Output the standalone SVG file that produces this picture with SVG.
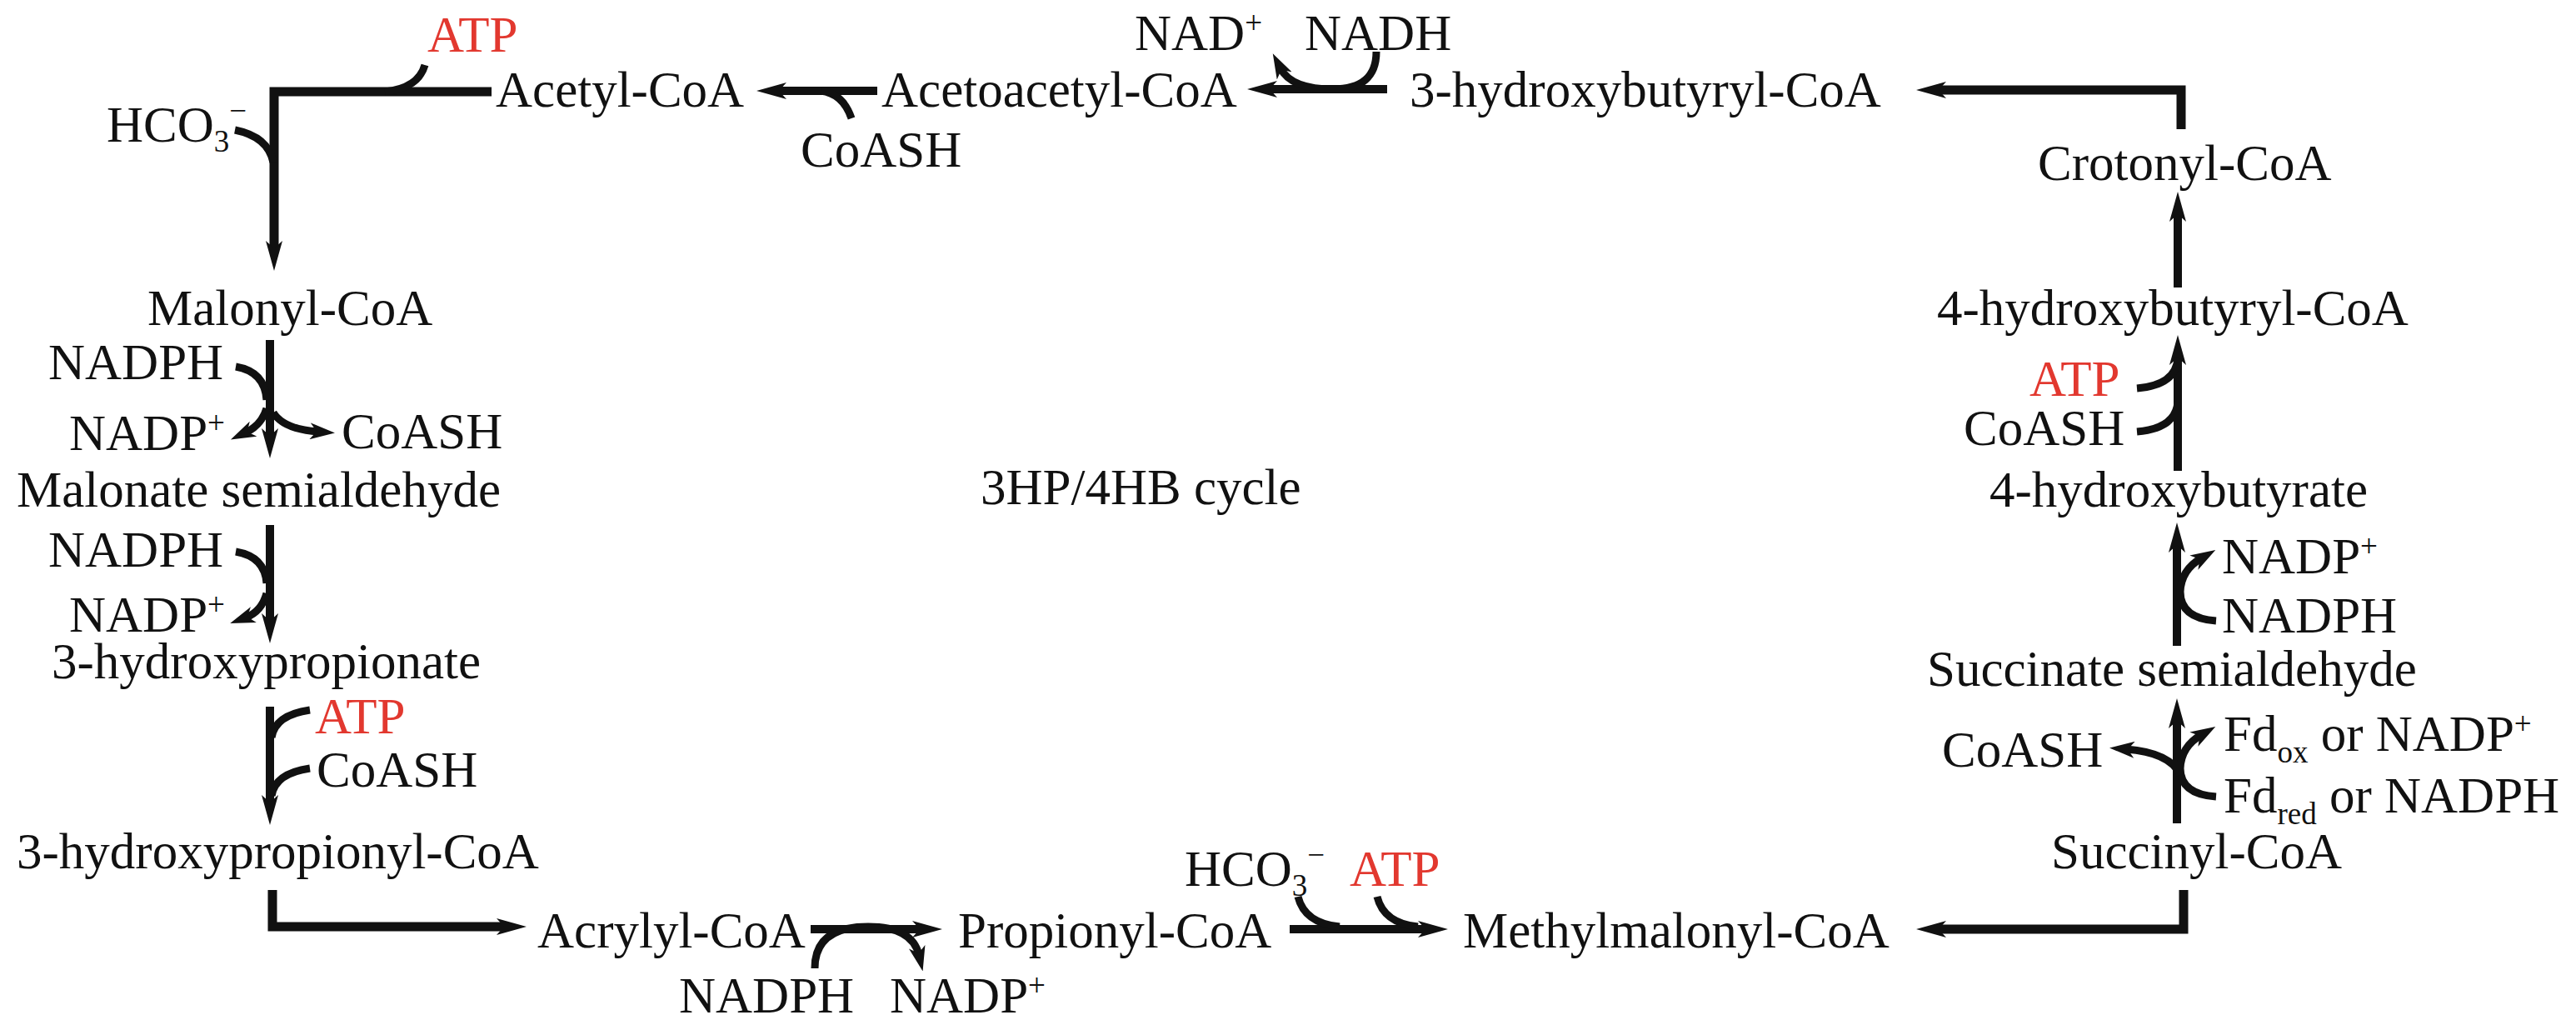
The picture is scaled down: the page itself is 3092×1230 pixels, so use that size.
<svg xmlns="http://www.w3.org/2000/svg" width="3092" height="1230" viewBox="0 0 3092 1230">
<style>
text{font-family:"Liberation Serif","Times New Roman",serif;font-size:61px;fill:#111}
.red{fill:#e2382f}
.s{font-size:37px}
.frame{fill:none;stroke:#111;stroke-width:11;stroke-linejoin:miter}
.main{fill:none;stroke:#111;stroke-width:10}
.side{fill:none;stroke:#111;stroke-width:9}
</style>
<defs>
<marker id="ah" markerUnits="userSpaceOnUse" viewBox="0 0 36 20" markerWidth="36" markerHeight="20" refX="14" refY="10" orient="auto"><path d="M0,0 L36,10 L0,20 L9,10 Z" fill="#111"/></marker>
<marker id="as" markerUnits="userSpaceOnUse" viewBox="0 0 30 20" markerWidth="30" markerHeight="20" refX="10" refY="10" orient="auto"><path d="M0,0 L30,10 L0,20 L8,10 Z" fill="#111"/></marker>
</defs>
<g id="connectors">
<path class="frame" d="M590,110 H329 V303" marker-end="url(#ah)"/>
<path class="side" d="M510,78 Q502,106 462,110"/>
<path class="side" d="M282,156 Q322,164 328,195"/>
<path class="main" d="M1053,109 H930" marker-end="url(#ah)"/>
<path class="side" d="M1022,142 Q1012,112 985,109"/>
<path class="main" d="M1665,107 H1519" marker-end="url(#ah)"/>
<path class="side" d="M1652,62 Q1652,107 1600,107 Q1550,107 1537,82" marker-end="url(#as)"/>
<path class="frame" d="M2618,155 V108 H2322" marker-end="url(#ah)"/>
<path class="main" d="M2614,345 V252" marker-end="url(#ah)"/>
<path class="main" d="M2614,565 V424" marker-end="url(#ah)"/>
<path class="side" d="M2565,466 Q2612,462 2614,430"/>
<path class="side" d="M2565,518 Q2612,514 2614,482"/>
<path class="main" d="M2613,775 V649" marker-end="url(#ah)"/>
<path class="side" d="M2660,745 Q2617,742 2617,710 Q2618,684 2642,670" marker-end="url(#as)"/>
<path class="main" d="M2613,988 V860" marker-end="url(#ah)"/>
<path class="side" d="M2660,956 Q2617,953 2617,922 Q2618,896 2642,882" marker-end="url(#as)"/>
<path class="side" d="M2617,930 Q2605,903 2552,899" marker-end="url(#as)"/>
<path class="frame" d="M2621,1068 V1115 H2322" marker-end="url(#ah)"/>
<path class="main" d="M1548,1115 H1716" marker-end="url(#ah)"/>
<path class="side" d="M1558,1076 Q1566,1108 1608,1112"/>
<path class="side" d="M1653,1076 Q1661,1108 1702,1112"/>
<path class="main" d="M973,1115 H1109" marker-end="url(#ah)"/>
<path class="side" d="M978,1162 Q978,1112 1042,1112 Q1095,1112 1103,1146" marker-end="url(#as)"/>
<path class="frame" d="M327,1068 V1112 H610" marker-end="url(#ah)"/>
<path class="main" d="M324,408 V528" marker-end="url(#ah)"/>
<path class="side" d="M283,440 Q318,446 320,480"/>
<path class="side" d="M320,490 Q314,510 295,519" marker-end="url(#as)"/>
<path class="side" d="M328,495 Q340,515 382,518" marker-end="url(#as)"/>
<path class="main" d="M324,630 V750" marker-end="url(#ah)"/>
<path class="side" d="M283,662 Q318,668 320,700"/>
<path class="side" d="M320,712 Q314,734 295,741" marker-end="url(#as)"/>
<path class="main" d="M324,848 V968" marker-end="url(#ah)"/>
<path class="side" d="M372,852 Q330,858 326,885"/>
<path class="side" d="M372,922 Q330,928 326,955"/>
</g>
<g id="acetyl-coa"><text x="595" y="128">Acetyl-CoA</text></g>
<g id="atp-1"><text class="red" x="513" y="62">ATP</text></g>
<g id="hco3-1"><text x="128" y="170">HCO<tspan class="s" dy="12">3</tspan><tspan class="s" dy="-37">−</tspan></text></g>
<g id="acetoacetyl-coa"><text x="1058" y="128">Acetoacetyl-CoA</text></g>
<g id="coash-1"><text x="961" y="200">CoASH</text></g>
<g id="nad"><text x="1362" y="60">NAD<tspan class="s" dy="-20">+</tspan></text></g>
<g id="nadh"><text x="1566" y="60">NADH</text></g>
<g id="hydroxybutyryl-3"><text x="1692" y="128">3-hydroxybutyryl-CoA</text></g>
<g id="crotonyl-coa"><text x="2446" y="216">Crotonyl-CoA</text></g>
<g id="hydroxybutyryl-4"><text x="2325" y="390">4-hydroxybutyryl-CoA</text></g>
<g id="atp-2"><text class="red" x="2436" y="475">ATP</text></g>
<g id="coash-2"><text x="2357" y="534">CoASH</text></g>
<g id="hydroxybutyrate"><text x="2388" y="608">4-hydroxybutyrate</text></g>
<g id="nadp-r1"><text x="2667" y="688">NADP<tspan class="s" dy="-20">+</tspan></text></g>
<g id="nadph-r1"><text x="2667" y="759">NADPH</text></g>
<g id="succinate-semialdehyde"><text x="2313" y="823">Succinate semialdehyde</text></g>
<g id="coash-3"><text x="2331" y="920">CoASH</text></g>
<g id="fdox"><text x="2669" y="901">Fd<tspan class="s" dy="14">ox</tspan><tspan dy="-14"> or NADP</tspan><tspan class="s" dy="-20">+</tspan></text></g>
<g id="fdred"><text x="2669" y="975">Fd<tspan class="s" dy="14">red</tspan><tspan dy="-14"> or NADPH</tspan></text></g>
<g id="succinyl-coa"><text x="2462" y="1042">Succinyl-CoA</text></g>
<g id="methylmalonyl-coa"><text x="1756" y="1137">Methylmalonyl-CoA</text></g>
<g id="hco3-2"><text x="1422" y="1063">HCO<tspan class="s" dy="12">3</tspan><tspan class="s" dy="-37">−</tspan></text></g>
<g id="atp-3"><text class="red" x="1620" y="1063">ATP</text></g>
<g id="propionyl-coa"><text x="1150" y="1137">Propionyl-CoA</text></g>
<g id="acrylyl-coa"><text x="645" y="1137">Acrylyl-CoA</text></g>
<g id="nadph-b"><text x="815" y="1215">NADPH</text></g>
<g id="nadp-b"><text x="1068" y="1215">NADP<tspan class="s" dy="-20">+</tspan></text></g>
<g id="hydroxypropionyl-coa"><text x="20" y="1042">3-hydroxypropionyl-CoA</text></g>
<g id="hydroxypropionate"><text x="62" y="814">3-hydroxypropionate</text></g>
<g id="nadph-l2"><text x="58" y="680">NADPH</text></g>
<g id="nadp-l2"><text x="83" y="758">NADP<tspan class="s" dy="-20">+</tspan></text></g>
<g id="malonate-semialdehyde"><text x="20" y="608">Malonate semialdehyde</text></g>
<g id="nadph-l1"><text x="58" y="455">NADPH</text></g>
<g id="nadp-l1"><text x="83" y="540">NADP<tspan class="s" dy="-20">+</tspan></text></g>
<g id="coash-l1"><text x="410" y="538">CoASH</text></g>
<g id="malonyl-coa"><text x="177" y="390">Malonyl-CoA</text></g>
<g id="atp-4"><text class="red" x="378" y="880">ATP</text></g>
<g id="coash-4"><text x="380" y="944">CoASH</text></g>
<g id="cycle-label"><text x="1177" y="605">3HP/4HB cycle</text></g>
</svg>
